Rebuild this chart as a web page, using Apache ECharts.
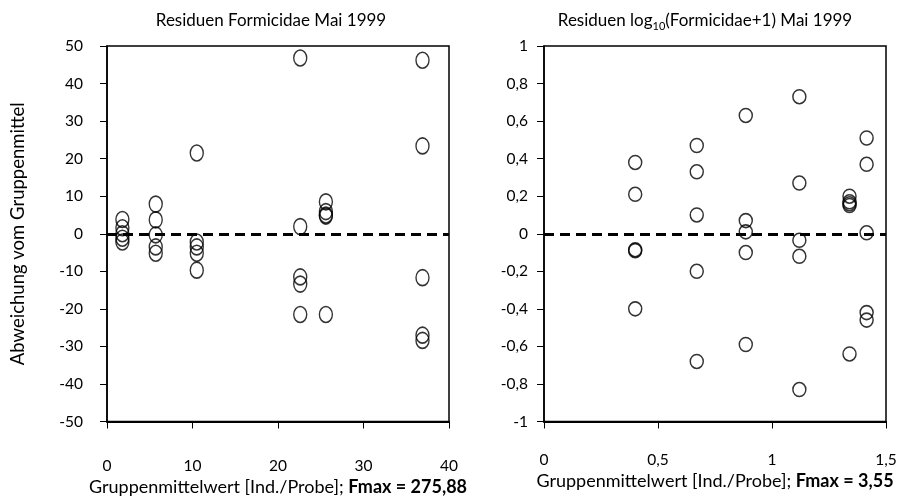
<!DOCTYPE html>
<html>
<head>
<meta charset="utf-8">
<script src="https://cdn.jsdelivr.net/npm/echarts@6/dist/echarts.min.js"></script>
<style>html,body{margin:0;padding:0;background:#fff;}#c{width:904px;height:498px;}</style>
</head>
<body>
<div id="c"></div>
<script>
// Left panel: group means and residuals (Formicidae)
const leftMeans = [1.8, 5.7, 10.5, 22.6, 25.6, 36.9];
const leftResiduals = [
  [3.8, 1.6, 0, -1.2, -2.2],
  [7.9, 3.7, -0.3, -3.5, -5.2],
  [21.5, -2.2, -3.5, -5.2, -9.7],
  [46.8, 1.9, -11.5, -13.4, -21.5],
  [8.5, 5.9, 5.0, 4.7, -21.5],
  [46.2, 23.4, -11.7, -27.0, -28.4]
];
// Right panel: group means and residuals (log10(Formicidae+1))
const rightMeans = [0.40, 0.67, 0.885, 1.12, 1.34, 1.415];
const rightResiduals = [
  [0.38, 0.21, -0.085, -0.09, -0.40],
  [0.47, 0.33, 0.10, -0.20, -0.68],
  [0.63, 0.07, 0.01, -0.10, -0.59],
  [0.73, 0.27, -0.035, -0.12, -0.83],
  [0.20, 0.17, 0.16, 0.15, -0.64],
  [0.51, 0.37, 0.005, -0.42, -0.46]
];
const leftTitle = 'Residuen Formicidae Mai 1999';
const rightTitleParts = ['Residuen log', '10', '(Formicidae+1) Mai 1999'];
const yAxisTitle = 'Abweichung vom Gruppenmittel';
const xAxisTitle = 'Gruppenmittelwert [Ind./Probe]; ';
const leftFmax = 'Fmax = 275,88';
const rightFmax = 'Fmax = 3,55';

function pairs(means, res) {
  const out = [];
  means.forEach((m, i) => res[i].forEach(v => out.push([m, v])));
  return out;
}
const FONT = 'Lato, "Open Sans", sans-serif';
const fmt = v => String(Math.round(v * 10) / 10).replace('.', ',');

const chart = echarts.init(document.getElementById('c'), null, {renderer: 'canvas'});
const axisCommon = {
  axisLine: {show: true, onZero: false, lineStyle: {color: '#000', width: 1.5}},
  axisTick: {show: true, inside: false, length: 7, lineStyle: {color: '#000', width: 1}},
  splitLine: {show: false},
};
const labelStyle = {color: '#000', fontFamily: FONT, fontSize: 15.5};
const nameRich = {
  n: {fontFamily: FONT, fontSize: 18, color: '#000'},
  b: {fontFamily: FONT, fontSize: 18, color: '#000', fontWeight: 'bold'}
};
const dashLine = {
  silent: true, symbol: 'none', animation: false,
  label: {show: false},
  lineStyle: {type: [10, 6], width: 3, color: '#000'},
  data: [{yAxis: 0}]
};

chart.setOption({
  animation: false,
  backgroundColor: '#fff',
  grid: [
    {left: 107, top: 46, width: 342, height: 375.5, containLabel: false, outerBoundsMode: 'none',
      show: true, borderColor: '#000', borderWidth: 1.5, backgroundColor: 'transparent'},
    {left: 544, top: 46, width: 342, height: 375.5, containLabel: false, outerBoundsMode: 'none',
      show: true, borderColor: '#000', borderWidth: 1.5, backgroundColor: 'transparent'}
  ],
  xAxis: [
    Object.assign({}, axisCommon, {
      gridIndex: 0, type: 'value', min: 0, max: 40, interval: 10,
      axisLine: {show: true, onZero: false, lineStyle: {color: '#000', width: 2}},
      axisLabel: Object.assign({margin: 36, formatter: fmt}, labelStyle),
      name: '{n|' + xAxisTitle + '}{b|' + leftFmax + '}',
      nameLocation: 'middle', nameGap: 47,
      nameTextStyle: {rich: nameRich}
    }),
    Object.assign({}, axisCommon, {
      gridIndex: 1, type: 'value', min: 0, max: 1.5, interval: 0.5,
      axisLine: {show: true, onZero: false, lineStyle: {color: '#000', width: 2}},
      axisLabel: Object.assign({margin: 30, formatter: fmt}, labelStyle),
      name: '{n|' + xAxisTitle + '}{b|' + rightFmax + '}',
      nameLocation: 'middle', nameGap: 47,
      nameTextStyle: {rich: nameRich}
    })
  ],
  yAxis: [
    Object.assign({}, axisCommon, {
      gridIndex: 0, type: 'value', min: -50, max: 50, interval: 10,
      axisLabel: Object.assign({margin: 24, formatter: fmt}, labelStyle),
      name: yAxisTitle, nameLocation: 'middle', nameGap: 79, nameRotate: 90,
      nameTextStyle: {color: '#000', fontFamily: FONT, fontSize: 18.5}
    }),
    Object.assign({}, axisCommon, {
      gridIndex: 1, type: 'value', min: -1, max: 1, interval: 0.2,
      axisLabel: Object.assign({margin: 16, formatter: fmt}, labelStyle)
    })
  ],
  graphic: [
    {type: 'text', x: 271, y: 21, silent: true,
      style: {text: leftTitle, align: 'center', verticalAlign: 'middle', fill: '#000', font: '17px ' + FONT}},
    {type: 'text', x: 705, y: 21, silent: true,
      style: {
        text: '{a|' + rightTitleParts[0] + '}{s|' + rightTitleParts[1] + '}{a|' + rightTitleParts[2] + '}',
        align: 'center', verticalAlign: 'middle', fill: '#000', font: '17px ' + FONT,
        rich: {
          a: {fontFamily: FONT, fontSize: 17, lineHeight: 22, verticalAlign: 'middle', fill: '#000'},
          s: {fontFamily: FONT, fontSize: 11, lineHeight: 22, verticalAlign: 'bottom', fill: '#000'}
        }
      }}
  ],
  series: [
    {type: 'scatter', xAxisIndex: 0, yAxisIndex: 0, data: pairs(leftMeans, leftResiduals),
      symbol: 'circle', symbolSize: [13, 16],
      itemStyle: {color: 'rgba(0,0,0,0)', borderColor: '#000', borderWidth: 1.5},
      markLine: dashLine, z: 3},
    {type: 'scatter', xAxisIndex: 1, yAxisIndex: 1, data: pairs(rightMeans, rightResiduals),
      symbol: 'circle', symbolSize: [13, 14],
      itemStyle: {color: 'rgba(0,0,0,0)', borderColor: '#000', borderWidth: 1.5},
      markLine: dashLine, z: 3}
  ]
});
</script>
</body>
</html>
